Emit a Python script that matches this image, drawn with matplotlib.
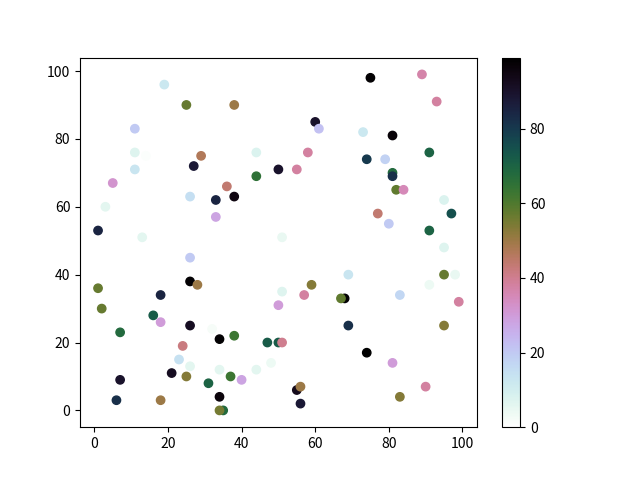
import matplotlib
matplotlib.use('Agg')
import matplotlib.pyplot as plt

plt.rcParams['font.family'] = ['Noto Sans CJK SC', 'DejaVu Sans']

# scatter data: x, y and colour value of each point
x = [19, 25, 38, 11, 11, 14, 11, 29, 27, 44, 44, 50, 5, 36, 38, 33, 26, 33, 3, 1,
     13, 51, 51, 75, 89, 93, 60, 61, 73, 81, 58, 91, 74, 79, 55, 81, 81, 82, 84, 95,
     77, 97, 80, 91, 95, 26, 1, 26, 28, 18, 2, 16, 18, 7, 26, 32, 34, 38, 24, 23,
     26, 34, 21, 25, 37, 40, 31, 7, 34, 6, 18, 35, 34, 44, 48, 47, 50, 50, 51, 51,
     57, 59, 68, 67, 69, 69, 74, 81, 83, 83, 90, 91, 95, 98, 99, 95, 55, 56, 56]
y = [96, 90, 90, 83, 76, 75, 71, 75, 72, 76, 69, 71, 67, 66, 63, 62, 63, 57, 60, 53,
     51, 51, 95, 98, 99, 91, 85, 83, 82, 81, 76, 76, 74, 74, 71, 70, 69, 65, 65, 62,
     58, 58, 55, 53, 48, 45, 36, 38, 37, 34, 30, 28, 26, 23, 25, 24, 21, 22, 19, 15,
     13, 12, 11, 10, 10, 9, 8, 9, 4, 3, 3, 0, 0, 12, 14, 20, 20, 31, 35, 20,
     34, 37, 33, 33, 40, 25, 17, 14, 34, 4, 7, 37, 40, 40, 32, 25, 6, 7, 2]
c = [12, 57, 50, 20, 7, 1, 13, 47, 88, 8, 65, 90, 32, 44, 95, 85, 15, 28, 6, 85,
     6, 5, 0, 98, 37, 38, 90, 22, 12, 97, 38, 70, 80, 18, 38, 68, 82, 58, 35, 8,
     44, 75, 20, 70, 7, 20, 57, 98, 50, 85, 57, 72, 30, 68, 92, 2, 98, 63, 42, 14,
     6, 6, 92, 53, 63, 28, 70, 90, 96, 82, 50, 68, 55, 6, 4, 72, 72, 30, 7, 40,
     38, 53, 98, 58, 13, 82, 99, 30, 17, 53, 38, 4, 57, 5, 38, 53, 93, 50, 88]

fig, ax = plt.subplots(figsize=(6.4, 4.8), dpi=100)
sc = ax.scatter(x, y, c=c, cmap='cubehelix_r')
fig.colorbar(sc)

fig.savefig('out.png')
